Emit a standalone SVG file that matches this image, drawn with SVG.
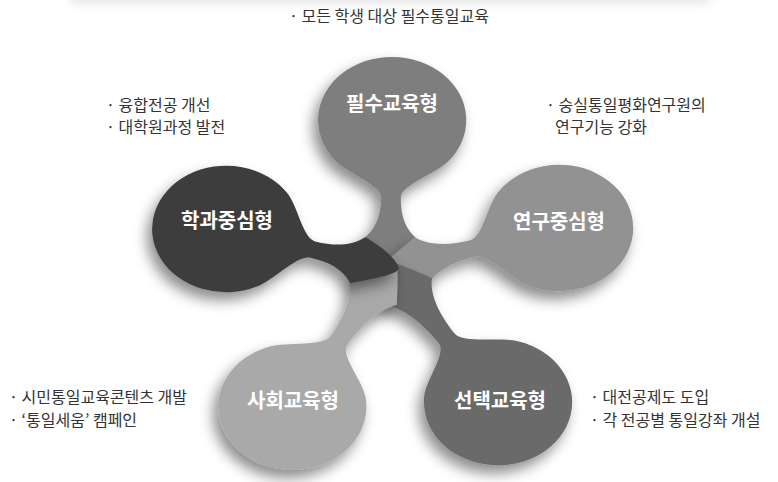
<svg xmlns="http://www.w3.org/2000/svg" width="778" height="482" viewBox="0 0 778 482">
<defs>
<filter id="sh" x="-30%" y="-30%" width="160%" height="160%">
<feDropShadow dx="-5" dy="8" stdDeviation="7" flood-color="#000" flood-opacity="0.45"/>
</filter>
<filter id="blur" x="-20%" y="-200%" width="140%" height="500%">
<feGaussianBlur stdDeviation="6"/>
</filter>
</defs>
<style>
.note{font-family:"Noto Sans CJK KR","Noto Sans",sans-serif;font-size:16px;fill:#333;}
.lbl{font-family:"Noto Sans CJK KR","Noto Sans",sans-serif;font-size:20px;font-weight:bold;fill:#fff;text-anchor:middle;}
</style>
<rect width="778" height="482" fill="#fff"/>
<rect x="70" y="-16" width="640" height="18" fill="#000" opacity="0.12" filter="url(#blur)"/>

<g id="connectors"></g>

<g id="petal-top">
<g filter="url(#sh)">
<path fill="#7e7e7e" transform="translate(390,268) scale(1.09,0.93) rotate(0.7)" d="M -25.7,-30.6 C -12,-42 -9,-60 -9,-76 C -9,-89 -40.5,-101.5 -52.1,-115.3 A 68 68 0 1 1 52.1,-115.3 C 40.5,-101.5 9,-89 9,-76 C 9,-60 12,-42 25.7,-30.6 C 20,-14 12,2 2,8 C -6,8 -16,-14 -25.7,-30.6 Z"/>
</g>
<text class="lbl" x="392" y="111">필수교육형</text>
</g>

<g id="petal-right">
<g filter="url(#sh)">
<path fill="#929292" transform="translate(390,268) scale(1.09,0.93) rotate(74.5)" d="M -25.7,-30.6 C -12,-42 -9,-62 -9,-78 C -9,-91 -40.5,-103.5 -52.1,-117.3 A 68 68 0 1 1 52.1,-117.3 C 40.5,-103.5 9,-91 9,-78 C 9,-62 12,-42 25.7,-30.6 C 20,-14 12,2 2,8 C -6,8 -16,-14 -25.7,-30.6 Z"/>
</g>
<text class="lbl" x="559" y="229">연구중심형</text>
</g>

<g id="petal-bottom-right">
<g filter="url(#sh)">
<path fill="#6b6b6b" transform="translate(390,268) scale(1.09,0.93) rotate(145.5)" d="M -25.7,-30.6 C -12,-46 -9,-72 -9,-92 C -9,-105 -40.5,-117.5 -52.1,-131.3 A 68 68 0 1 1 52.1,-131.3 C 40.5,-117.5 9,-105 9,-92 C 9,-72 12,-46 25.7,-30.6 C 20,-14 12,2 2,8 C -6,8 -16,-14 -25.7,-30.6 Z"/>
</g>
<text class="lbl" x="500" y="408">선택교육형</text>
</g>

<g id="petal-bottom-left">
<g filter="url(#sh)">
<path fill="#a9a9a9" transform="translate(390,268) scale(1.09,0.93) rotate(211)" d="M -25.7,-30.6 C -12,-46 -9,-71 -9,-91 C -9,-104 -40.5,-116.5 -52.1,-130.3 A 68 68 0 1 1 52.1,-130.3 C 40.5,-116.5 9,-104 9,-91 C 9,-71 12,-46 25.7,-30.6 C 20,-14 12,2 2,8 C -6,8 -16,-14 -25.7,-30.6 Z"/>
</g>
<text class="lbl" x="293" y="408">사회교육형</text>
</g>

<g id="petal-left">
<g filter="url(#sh)">
<path fill="#3c3c3c" transform="translate(390,268) scale(1.09,0.93) rotate(285.6)" d="M -25.7,-30.6 C -12,-42 -9,-57 -9,-73 C -9,-86 -40.5,-98.5 -52.1,-112.3 A 68 68 0 1 1 52.1,-112.3 C 40.5,-98.5 9,-86 9,-73 C 9,-57 12,-42 25.7,-30.6 C 20,-14 12,2 2,8 C -6,8 -16,-14 -25.7,-30.6 Z"/>
</g>
<text class="lbl" x="227" y="228">학과중심형</text>
</g>

<g id="notes">
<text class="note" x="289" y="22">· 모든 학생 대상 필수통일교육</text>
<text class="note" x="106" y="111">· 융합전공 개선</text>
<text class="note" x="106" y="133">· 대학원과정 발전</text>
<text class="note" x="546" y="111">· 숭실통일평화연구원의</text>
<text class="note" x="555" y="133">연구기능 강화</text>
<text class="note" x="9" y="403">· 시민통일교육콘텐츠 개발</text>
<text class="note" x="9" y="426">· ‘통일세움’ 캠페인</text>
<text class="note" x="590" y="403">· 대전공제도 도입</text>
<text class="note" x="590" y="426">· 각 전공별 통일강좌 개설</text>
</g>
</svg>
